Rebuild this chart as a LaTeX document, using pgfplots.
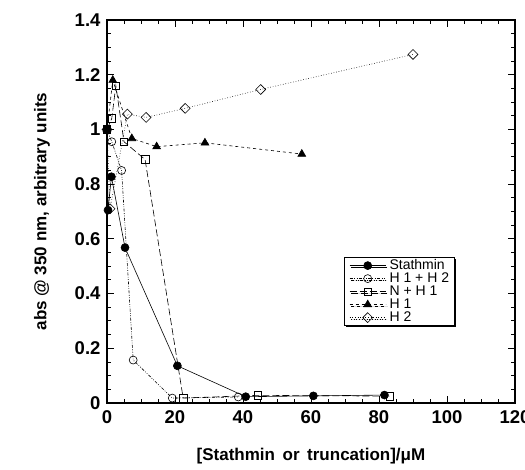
\documentclass[border=0pt]{standalone}
\usepackage{fontspec}
\setmainfont{Liberation Sans}
\usepackage{pgfplots}
\pgfplotsset{compat=1.18}
\usetikzlibrary{shadows}
\begin{document}
\begin{tikzpicture}[x=1pt,y=1pt]
\begin{axis}[
  scale only axis,
  width=408pt, height=383pt,
  xmin=0, xmax=120, ymin=0, ymax=1.4,
  xtick={0,20,...,120}, ytick={0,0.2,...,1.4},
  yticklabels={0,0.2,0.4,0.6,0.8,1,1.2,1.4},
  minor x tick num=3, minor y tick num=3,
  tick align=inside,
  major tick length=7pt, minor tick length=4pt,
  every tick/.style={black, line width=0.9pt},
  axis line style={line width=1.8pt},
  /pgf/number format/assume math mode=true,
  ticklabel style={font=\fontsize{18.5}{20}\selectfont\bfseries},
  xticklabel style={yshift=-4pt},
  yticklabel style={xshift=-3pt},
  xlabel={[Stathmin\, or\, truncation]/μM},
  ylabel={abs @ 350 nm, arbitrary units},
  label style={font=\fontsize{17}{19}\selectfont\bfseries},
  xlabel style={yshift=-18pt},
  ylabel style={yshift=18pt},
  legend style={at={(axis cs:69.7,0.534)}, anchor=north west, draw=black, line width=0.9pt,
    fill=white, row sep=0.5pt,
    nodes={inner sep=0.5pt, text height=9.5pt, text depth=2pt, font=\fontsize{14}{14}\selectfont},
    /tikz/every odd column/.style={column sep=3pt},
    drop shadow={shadow xshift=1.5pt, shadow yshift=-1.5pt, fill=black, opacity=1},
    inner xsep=5pt, inner ysep=2pt},
  legend cell align=left,
  legend image code/.code={\draw[mark repeat=2,mark phase=2,#1] plot coordinates {(0pt,0pt) (18pt,0pt) (36pt,0pt)};},
  every axis plot/.append style={line width=0.6pt},
]
\coordinate (sw) at (rel axis cs:0,0);
% Stathmin
\addplot[black, solid, mark=*, mark size=4pt, mark options={solid, fill=black}]
  coordinates {(0,1.0) (0.3,0.705) (1.3,0.827) (5.3,0.568) (20.7,0.136) (40.8,0.023) (60.7,0.026) (81.6,0.029)};
\addlegendentry{Stathmin}
% H1 + H2
\addplot[black, dash pattern=on 3pt off 1.5pt on 0.8pt off 1.5pt on 0.8pt off 1.5pt, mark=o, mark size=4pt, mark options={solid, fill=white}]
  coordinates {(0,1.0) (1.4,0.955) (4.3,0.85) (7.7,0.157) (19.2,0.018) (38.6,0.022)};
\addlegendentry{H 1 + H 2}
% N + H1
\addplot[black, dash pattern=on 7pt off 3pt, mark=square, mark size=3.8pt, mark options={solid, fill=white}]
  coordinates {(0,1.0) (1.4,1.04) (2.6,1.16) (5.0,0.955) (11.2,0.89) (22.4,0.018) (44.4,0.028) (83.2,0.025)};
\addlegendentry{N + H 1}
% H1
\addplot[black, dash pattern=on 3pt off 3pt, mark=triangle*, mark size=4.5pt, mark options={solid, fill=black}]
  coordinates {(0,1.0) (1.7,1.18) (7.3,0.967) (14.6,0.937) (28.8,0.951) (57.3,0.91)};
\addlegendentry{H 1}
% H2
\addplot[black, dotted, mark=square, mark size=3.5pt, mark options={solid, fill=white, rotate=45}]
  coordinates {(0,1.0) (0.9,0.71) (6.0,1.056) (11.5,1.044) (23.0,1.077) (45.2,1.146) (90.0,1.274)};
\addlegendentry{H 2}
\end{axis}
\pgfresetboundingbox
\path[use as bounding box] ([shift={(-107pt,-67pt)}]sw) rectangle ([shift={(418pt,403pt)}]sw);
\end{tikzpicture}
\end{document}
